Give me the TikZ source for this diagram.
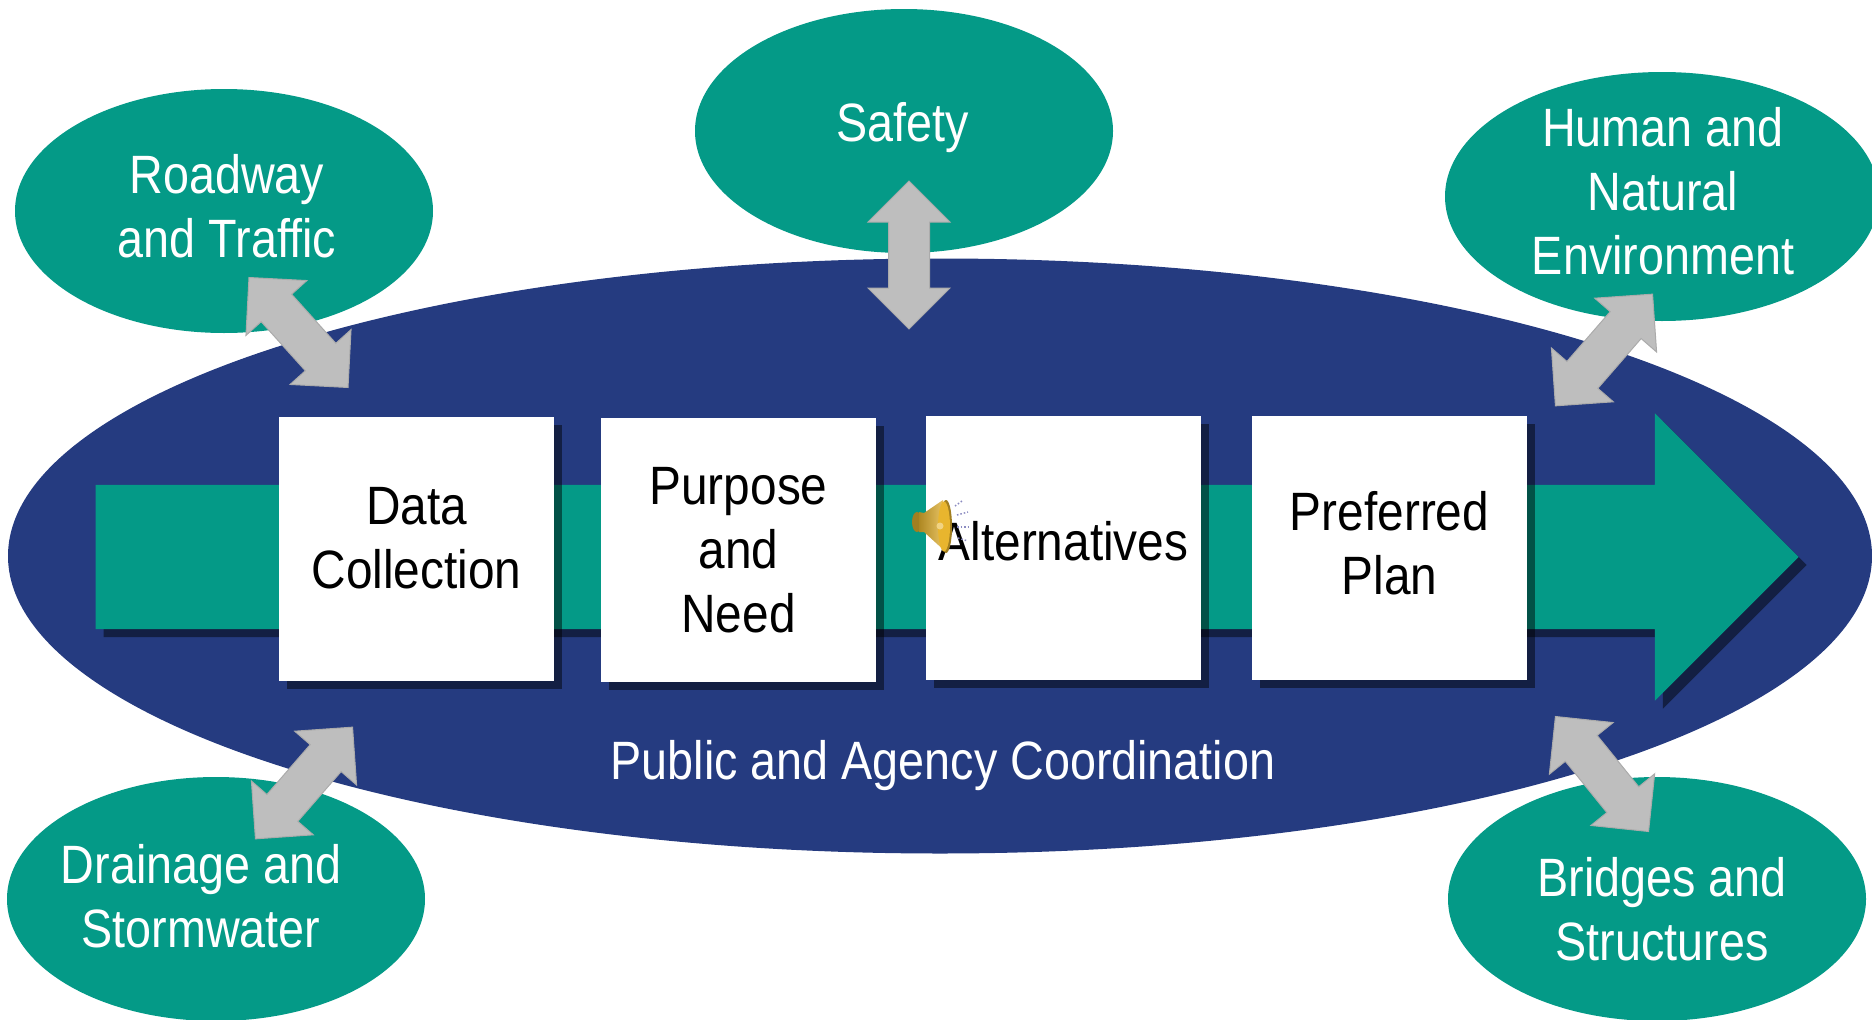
\documentclass[tikz,border=0pt]{standalone}
\usepackage{fontspec}
\setmainfont{Liberation Sans}[FakeStretch=0.885]
\newfontfamily\topicfont{Liberation Sans}[FakeStretch=0.865]
\usetikzlibrary{shapes.geometric, shapes.arrows, shadows}

\definecolor{teal}{HTML}{049A87}
\definecolor{navy}{HTML}{253B80}
\definecolor{arrowgray}{HTML}{BEBEBE}
\definecolor{gold}{HTML}{E8B52E}

\begin{document}
\begin{tikzpicture}[
        x=1pt, y=-1pt,
        plan/.style={ellipse, fill=navy, minimum width=1864pt, minimum height=595pt, inner sep=0pt},
        topic/.style={ellipse, fill=teal, minimum width=418pt, minimum height=244pt, inner sep=0pt},
        label text/.style={text=white, align=center, font=\topicfont\fontsize{54}{64}\selectfont},
        stepbox/.style={rectangle, fill=white, minimum width=275pt, minimum height=264pt, inner sep=0pt, align=center,
            font=\fontsize{54}{64}\selectfont, drop shadow={shadow xshift=8pt, shadow yshift=-8pt, fill=black, opacity=.47}},
        flow/.style={single arrow, fill=teal, minimum height=1703pt, minimum width=287pt, inner xsep=0pt, inner ysep=72pt,
            single arrow head extend=71.5pt, single arrow head indent=0pt,
            drop shadow={shadow xshift=8pt, shadow yshift=-8pt, fill=black, opacity=.47}},
        link/.style={double arrow, fill=arrowgray, draw=black!33, line width=1pt, minimum height=148pt, minimum width=81pt,
            inner xsep=0pt, inner ysep=20pt, double arrow head extend=20.5pt, double arrow head indent=0pt},
        speaker wave/.style={blue!30!gray!70, line width=1.5pt, dotted}
    ]
        \useasboundingbox (0,0) rectangle (1872,1020);

        % Coordination ellipse
        \node[plan] (plan) at (940,556) {};
        \node[label text] (public) at (943,766) {Public and Agency Coordination};

        % Topics
        \node[topic] (roadway) at (224,211) {};
        \node[topic] (safety) at (904,131) {};
        \node[topic, minimum width=434pt, minimum height=249pt] (human) at (1662,196.5) {};
        \node[topic] (drainage) at (216,899) {};
        \node[topic] (bridges) at (1657,899) {};
        \node[label text] (roadwaytext) at (227,206) {Roadway\\and Traffic};
        \node[label text] (safetytext) at (903,128) {Safety};
        \node[label text] (humantext) at (1663,191) {Human and\\Natural\\Environment};
        \node[label text] (drainagetext) at (201,896) {Drainage and\\Stormwater};
        \node[label text] (bridgestext) at (1662,909) {Bridges and\\Structures};

        % Main arrow and steps
        \node[flow] (main) at (911,557) {};
        \node[stepbox, text depth=21.5pt] (data) at (416.5,549) {Data\\Collection};
        \node[stepbox] (purpose) at (738.5,550) {Purpose\\and\\Need};
        \node[stepbox, text depth=14pt] (alternatives) at (1063.5,548) {Alternatives};
        \node[stepbox, text depth=10pt] (preferred) at (1389.5,548) {Preferred\\Plan};

        % Links between the topics and the plan
        \node[link, rotate=-48] (roadwaylink) at (298.5,332.5) {};
        \node[link, rotate=90] (safetylink) at (909,255) {};
        \node[link, rotate=49] (humanlink) at (1604,350) {};
        \node[link, rotate=49] (drainagelink) at (304,783) {};
        \node[link, rotate=-51] (bridgeslink) at (1602,774) {};

        % Speaker icon
        \fill[gold!70!black] (917,522) ellipse[x radius=5, y radius=10];
        \shade[left color=gold!75!black, right color=gold!70!white] (919,512) -- (924,513) -- (943,500) -- (947,553) -- (924,532) -- (919,532) -- cycle;
        \fill[gold!70!black] (946,526.5) ellipse[x radius=6, y radius=26.5];
        \fill[gold] (944,526.5) ellipse[x radius=6, y radius=25];
        \fill[gold!60!white] (940,526) circle[radius=3.5];
        \draw[speaker wave] (955,506) -- (962,501);
        \draw[speaker wave] (957,515) -- (968,512);
        \draw[speaker wave] (957,527) -- (968,527);
        \draw[speaker wave] (958,538) -- (968,541);
    \end{tikzpicture}
\end{document}
